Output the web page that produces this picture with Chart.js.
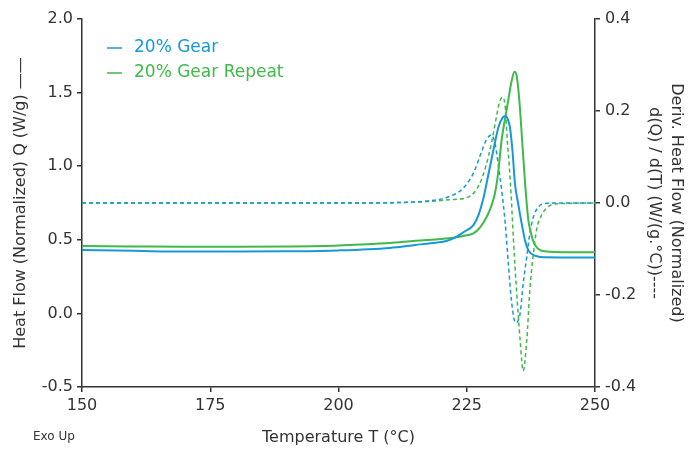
<!DOCTYPE html>
<html>
<head>
<meta charset="utf-8">
<script src="https://cdn.jsdelivr.net/npm/chart.js@4/dist/chart.umd.min.js"></script>
<style>
  html, body { margin: 0; padding: 0; background: #fff; }
  #wrap { width: 692px; height: 449px; }
</style>
</head>
<body>
<div id="wrap"><canvas id="dscChart" width="692" height="449"></canvas></div>
<script>
// Heat flow, 20% Gear (W/g)
const gearTemp = [150, 160, 170, 180, 190, 200, 210, 215, 218, 221, 222.7, 224.5, 226.3, 227.3, 228.2, 229, 230.2, 231.2, 232, 232.5, 233, 233.4, 233.9, 234.4, 235, 235.7, 236.4, 237, 237.7, 238.5, 240, 245, 250];
const gearFlow = [0.430, 0.425, 0.420, 0.420, 0.422, 0.428, 0.445, 0.465, 0.477, 0.492, 0.515, 0.555, 0.6, 0.67, 0.775, 0.906, 1.11, 1.268, 1.33, 1.341, 1.32, 1.268, 1.11, 0.88, 0.75, 0.612, 0.49, 0.43, 0.403, 0.390, 0.381, 0.380, 0.380];

// Heat flow, 20% Gear Repeat (W/g)
const repeatTemp = [150, 160, 170, 180, 190, 200, 210, 215, 220, 222.7, 224.5, 226.3, 227.6, 228.9, 229.8, 230.5, 231.1, 231.8, 232.5, 233.1, 233.7, 234.3, 234.7, 235, 235.4, 235.7, 236.1, 236.4, 237, 237.5, 238, 238.6, 239.3, 240.2, 241.2, 245, 250];
const repeatFlow = [0.458, 0.455, 0.452, 0.452, 0.455, 0.462, 0.478, 0.494, 0.505, 0.515, 0.527, 0.544, 0.585, 0.657, 0.73, 0.816, 0.95, 1.178, 1.33, 1.45, 1.57, 1.642, 1.62, 1.54, 1.38, 1.224, 1.02, 0.87, 0.635, 0.55, 0.487, 0.45, 0.43, 0.422, 0.418, 0.415, 0.415];

// Derivative d(Q)/d(T), 20% Gear (W/(g.°C))
const gearDerivTemp = [150, 200, 212, 217, 221.6, 224.3, 226.3, 227.9, 228.8, 229.8, 230.5, 231.2, 231.8, 232.5, 233.1, 233.7, 234.5, 235.4, 236, 236.7, 237.3, 238, 239, 240.3, 242, 250];
const gearDeriv = [0, 0, 0.001, 0.004, 0.014, 0.032, 0.065, 0.112, 0.137, 0.148, 0.13, 0.079, 0.028, -0.044, -0.131, -0.211, -0.26, -0.24, -0.175, -0.117, -0.066, -0.03, -0.008, -0.001, 0, 0];

// Derivative d(Q)/d(T), 20% Gear Repeat (W/(g.°C))
const repeatDerivTemp = [150, 200, 212, 217, 221.6, 225.5, 227.4, 228.7, 229.8, 230.8, 231.4, 232, 232.5, 232.9, 233.3, 233.7, 234.1, 234.7, 235.4, 236, 236.7, 237.3, 238, 238.6, 239.6, 240.9, 242.2, 250];
const repeatDeriv = [0, 0, 0.001, 0.003, 0.007, 0.014, 0.039, 0.079, 0.13, 0.188, 0.22, 0.23, 0.209, 0.137, 0.079, 0.007, -0.08, -0.189, -0.298, -0.365, -0.298, -0.189, -0.109, -0.059, -0.026, -0.008, -0.002, 0];

const seriesNames = ['20% Gear', '20% Gear Repeat'];
const BLUE = '#1699d6';
const GREEN = '#3fb94a';
const AXIS = '#333333';
const FONT = '"DejaVu Sans", "Liberation Sans", sans-serif';

const toPoints = (xs, ys) => xs.map((x, i) => ({ x: x, y: ys[i] }));

// legend in the top-left corner of the plot + "Exo Up" note
const notesPlugin = {
  id: 'notes',
  afterDraw(chart) {
    const ctx = chart.ctx;
    const area = chart.chartArea;
    ctx.save();
    ctx.font = '17px ' + FONT;
    ctx.textBaseline = 'middle';
    [BLUE, GREEN].forEach((c, i) => {
      const y = area.top + 29 + i * 25;
      ctx.strokeStyle = c;
      ctx.lineWidth = 1.5;
      ctx.beginPath();
      ctx.moveTo(area.left + 25, y);
      ctx.lineTo(area.left + 40, y);
      ctx.stroke();
      ctx.fillStyle = c;
      ctx.fillText(seriesNames[i], area.left + 52, y);
    });
    ctx.fillStyle = AXIS;
    ctx.font = '12px ' + FONT;
    ctx.fillText('Exo Up', 33, 437);
    ctx.restore();
  }
};

const ctx = document.getElementById('dscChart').getContext('2d');
new Chart(ctx, {
  type: 'line',
  data: {
    datasets: [
      { label: seriesNames[0], data: toPoints(gearTemp, gearFlow), yAxisID: 'y', borderColor: BLUE, borderWidth: 2 },
      { label: seriesNames[1], data: toPoints(repeatTemp, repeatFlow), yAxisID: 'y', borderColor: GREEN, borderWidth: 2 },
      { label: seriesNames[0] + ' deriv', data: toPoints(gearDerivTemp, gearDeriv), yAxisID: 'y2', borderColor: BLUE, borderWidth: 1.5, borderDash: [4, 3] },
      { label: seriesNames[1] + ' deriv', data: toPoints(repeatDerivTemp, repeatDeriv), yAxisID: 'y2', borderColor: GREEN, borderWidth: 1.5, borderDash: [4, 3] }
    ]
  },
  options: {
    responsive: false,
    animation: false,
    parsing: false,
    elements: {
      point: { radius: 0 },
      line: { cubicInterpolationMode: 'monotone', fill: false }
    },
    layout: { padding: { top: 19, right: 0, bottom: 0, left: 0 } },
    plugins: { legend: { display: false }, tooltip: { enabled: false } },
    scales: {
      x: {
        type: 'linear', min: 150, max: 250,
        ticks: { stepSize: 25, color: AXIS, font: { family: FONT, size: 16 }, padding: 4, maxRotation: 0 },
        grid: { drawOnChartArea: false, tickLength: 5, color: AXIS, lineWidth: 1.5 },
        border: { color: AXIS, width: 1.5 },
        title: { display: true, text: 'Temperature T (°C)', color: AXIS, font: { family: FONT, size: 16 }, padding: { top: 0, bottom: 2 } },
        afterFit(s) { s.height = 62; }
      },
      y: {
        position: 'left', min: -0.5, max: 2.0,
        ticks: { stepSize: 0.5, color: AXIS, font: { family: FONT, size: 16 }, padding: 4, callback: v => v.toFixed(1) },
        grid: { drawOnChartArea: false, tickLength: 5, color: AXIS, lineWidth: 1.5 },
        border: { color: AXIS, width: 1.5 },
        title: { display: true, text: 'Heat Flow (Normalized) Q (W/g) ——', color: AXIS, font: { family: FONT, size: 16 }, padding: { top: 11, bottom: 0 } },
        afterFit(s) { s.width = 82; }
      },
      y2: {
        position: 'right', min: -0.4, max: 0.4,
        ticks: { stepSize: 0.2, color: AXIS, font: { family: FONT, size: 16 }, padding: 5, callback: v => v.toFixed(1) },
        grid: { drawOnChartArea: false, tickLength: 5, color: AXIS, lineWidth: 1.5 },
        border: { color: AXIS, width: 1.5 },
        title: { display: true, text: ['Deriv. Heat Flow (Normalized)', 'd(Q) / d(T) (W/(g.°C))----'], color: AXIS, font: { family: FONT, size: 16, lineHeight: 1.375 }, padding: { top: 5, bottom: 0 } },
        afterFit(s) { s.width = 97; }
      }
    }
  },
  plugins: [notesPlugin]
});
</script>
</body>
</html>
